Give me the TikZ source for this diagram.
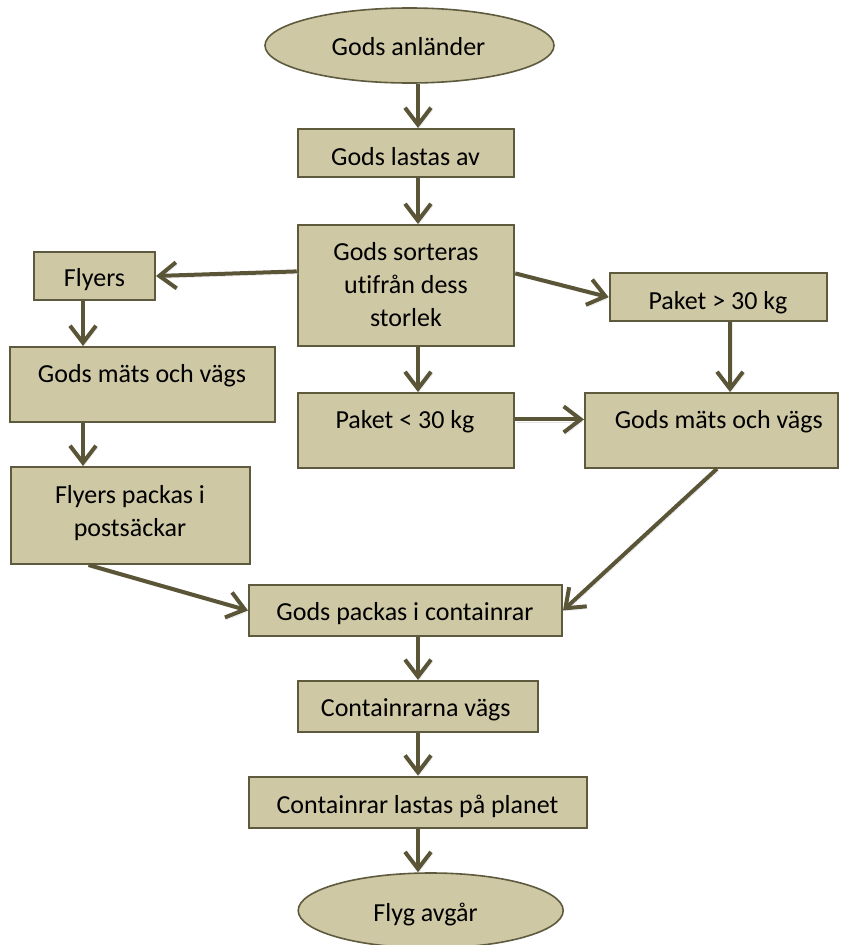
\documentclass[tikz,border=0pt]{standalone}
\usepackage{fontspec}
\setmainfont{Carlito}[Ligatures=NoCommon]
\usetikzlibrary{arrows.meta,shapes.geometric}

\definecolor{boxfill}{HTML}{CEC8A5}
\definecolor{boxline}{HTML}{5E5A3E}
\definecolor{arrowcol}{HTML}{5B5538}
\definecolor{shadowcol}{HTML}{E2E2E2}

\tikzset{
  stepbox/.style={draw=boxline, fill=boxfill, line width=2pt, rectangle, inner sep=0pt},
  termbox/.style={draw=boxline, fill=boxfill, line width=1.6pt, ellipse, inner sep=0pt},
  lbl/.style={anchor=base, inner sep=0pt, font=\fontsize{26}{32.7}\selectfont},
  flow/.style={draw=arrowcol, line width=4pt,
    -{Straight Barb[length=17pt,width=26pt]},
    preaction={draw=shadowcol, transform canvas={shift={(1.5pt,-2.5pt)}}}},
}

\begin{document}
\begin{tikzpicture}[x=1pt,y=-1pt]
\useasboundingbox (0,0) rectangle (841,945);

% main column axis
\coordinate (axis) at (418,0);

% terminal shapes
\node[termbox, minimum width=289pt, minimum height=75pt] (anl) at (409.5,45.5) {};
\node[termbox, minimum width=265pt, minimum height=75pt] (flyg) at (430.7,910.5) {};

% process boxes
\node[stepbox, minimum width=216pt, minimum height=48pt] (lastas) at (406,153) {};
\node[stepbox, minimum width=216.5pt, minimum height=120.7pt] (sort) at (406,285.4) {};
\node[stepbox, minimum width=121pt, minimum height=48pt] (fly) at (94.5,276) {};
\node[stepbox, minimum width=265pt, minimum height=75pt] (matsL) at (142.5,384.5) {};
\node[stepbox, minimum width=216.8pt, minimum height=47.7pt] (pbig) at (718.1,297.2) {};
\node[stepbox, minimum width=216.3pt, minimum height=74.7pt] (psmall) at (405.9,430.4) {};
\node[stepbox, minimum width=253pt, minimum height=74.7pt] (matsR) at (711.5,430.4) {};
\node[stepbox, minimum width=239.7pt, minimum height=97pt] (packs) at (130.5,515.5) {};
\node[stepbox, minimum width=313pt, minimum height=51pt] (cont) at (405.5,610.5) {};
\node[stepbox, minimum width=240.3pt, minimum height=50.7pt] (vag) at (417.9,706.3) {};
\node[stepbox, minimum width=337.7pt, minimum height=51pt] (planet) at (417.9,802.2) {};

% labels
\node[lbl] (tAnl) at (408.5,55) {Gods anländer};
\node[lbl] (tLastas) at (405.5,165) {Gods lastas av};
\node[lbl] (tSort) at (406,260.7) {\begin{tabular}[t]{@{}c@{}}Gods sorteras\\utifrån dess\\storlek\end{tabular}};
\node[lbl] (tFly) at (94.5,286.7) {Flyers};
\node[lbl] (tMatsL) at (142,382.7) {Gods mäts och vägs};
\node[lbl] (tPbig) at (718,309.3) {Paket > 30 kg};
\node[lbl] (tPsmall) at (405,428.3) {Paket < 30 kg};
\node[lbl] (tMatsR) at (718.8,428.3) {Gods mäts och vägs};
\node[lbl] (tPacks) at (130,503.3) {\begin{tabular}[t]{@{}c@{}}Flyers packas i\\postsäckar\end{tabular}};
\node[lbl] (tCont) at (405,620) {Gods packas i containrar};
\node[lbl] (tVag) at (415.8,716.7) {Containrarna vägs};
\node[lbl] (tPlanet) at (417.5,813.3) {Containrar lastas på planet};
\node[lbl] (tFlyg) at (425.5,921.7) {Flyg avgår};

% connectors
\draw[flow] (anl.south -| axis) -- (lastas.north -| axis);
\draw[flow] (lastas.south -| axis) -- (sort.north -| axis);
\draw[flow] ([yshift=14pt]sort.west) -- (fly.east);
\draw[flow] ([yshift=12pt]sort.east) -- (pbig.west);
\draw[flow] (sort.south -| axis) -- (psmall.north -| axis);
\draw[flow] ([xshift=-11.5pt]fly.south) -- ([xshift=-59.5pt]matsL.north);
\draw[flow] ([xshift=-59.5pt]matsL.south) -- ([xshift=-47.5pt]packs.north);
\draw[flow] ([xshift=12pt]pbig.south) -- ([xshift=18.5pt]matsR.north);
\draw[flow] ([yshift=11pt]psmall.east) -- ([yshift=11pt]matsR.west);
\draw[flow] ([xshift=-42pt]packs.south) -- (cont.west);
\draw[flow] ([xshift=5.5pt]matsR.south) -- (cont.east);
\draw[flow] (cont.south -| axis) -- (vag.north -| axis);
\draw[flow] (vag.south -| axis) -- (planet.north -| axis);
\draw[flow] (planet.south -| axis) -- (flyg.north -| axis);
\end{tikzpicture}
\end{document}
